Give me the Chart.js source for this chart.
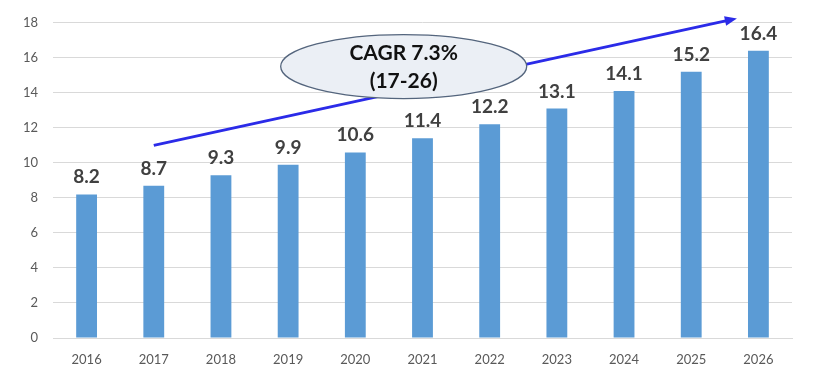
<!DOCTYPE html>
<html>
<head>
<meta charset="utf-8">
<script src="https://cdn.jsdelivr.net/npm/chart.js@4.4.1/dist/chart.umd.min.js"></script>
<style>
  html, body { margin: 0; padding: 0; background: #fff; }
  #wrap { width: 814px; height: 377px; }
</style>
</head>
<body>
<div id="wrap"><canvas id="chart" width="814" height="377"></canvas></div>
<script>
// values
const years = ["2016", "2017", "2018", "2019", "2020", "2021", "2022", "2023", "2024", "2025", "2026"]
const marketSize = [8.2, 8.7, 9.3, 9.9, 10.6, 11.4, 12.2, 13.1, 14.1, 15.2, 16.4]
const yMin = 0
const yMax = 18
const yStep = 2

// trend arrow and CAGR bubble, in data units (category index, value)
const arrowFrom = [1, 11.0]
const arrowTo = [9.68, 18.25]
const cagrCenter = [4.72, 15.5]
const cagrLines = ["CAGR 7.3%", "(17-26)"]

const tickColor = "#595959"
const barColor = "#5B9BD5"

const overlay = {
  id: "overlay",
  afterDatasetsDraw(chart) {
    const ctx = chart.ctx
    const x = chart.scales.x
    const y = chart.scales.y

    // value labels above the bars
    ctx.save()
    ctx.font = "bold 19px Lato, 'Liberation Sans', sans-serif"
    ctx.fillStyle = "#404040"
    ctx.textAlign = "center"
    ctx.textBaseline = "alphabetic"
    chart.getDatasetMeta(0).data.forEach((bar, i) => {
      ctx.fillText(marketSize[i].toFixed(1), bar.x, bar.y - 11)
    })
    ctx.restore()

    // arrow
    const x1 = x.getPixelForValue(arrowFrom[0])
    const y1 = y.getPixelForValue(arrowFrom[1])
    const x2 = x.getPixelForValue(arrowTo[0])
    const y2 = y.getPixelForValue(arrowTo[1])
    const ang = Math.atan2(y2 - y1, x2 - x1)
    const head = 13
    ctx.save()
    ctx.strokeStyle = "#2B2BE8"
    ctx.fillStyle = "#2B2BE8"
    ctx.lineWidth = 3
    ctx.beginPath()
    ctx.moveTo(x1, y1)
    ctx.lineTo(x2 - Math.cos(ang) * head * 0.8, y2 - Math.sin(ang) * head * 0.8)
    ctx.stroke()
    ctx.beginPath()
    ctx.moveTo(x2, y2)
    ctx.lineTo(x2 - head * Math.cos(ang - 0.38), y2 - head * Math.sin(ang - 0.38))
    ctx.lineTo(x2 - head * Math.cos(ang + 0.38), y2 - head * Math.sin(ang + 0.38))
    ctx.closePath()
    ctx.fill()
    ctx.restore()

    // CAGR bubble
    const cx = x.getPixelForValue(cagrCenter[0])
    const cy = y.getPixelForValue(cagrCenter[1])
    ctx.save()
    ctx.beginPath()
    ctx.ellipse(cx, cy, 123, 32, 0, 0, Math.PI * 2)
    ctx.fillStyle = "#EBEFF5"
    ctx.fill()
    ctx.lineWidth = 1.3
    ctx.strokeStyle = "#54657D"
    ctx.stroke()
    ctx.font = "bold 21px Lato, 'Liberation Sans', sans-serif"
    ctx.fillStyle = "#111111"
    ctx.textAlign = "center"
    ctx.textBaseline = "middle"
    ctx.fillText(cagrLines[0], cx, cy - 13)
    ctx.fillText(cagrLines[1], cx, cy + 15)
    ctx.restore()
  },
}

new Chart(document.getElementById("chart"), {
  type: "bar",
  data: {
    labels: years,
    datasets: [
      {
        data: marketSize,
        backgroundColor: barColor,
        borderWidth: 0,
        categoryPercentage: 1,
        barPercentage: 0.31,
      },
    ],
  },
  options: {
    responsive: false,
    animation: false,
    layout: { padding: { top: 21, right: 22, left: 0, bottom: 0 } },
    plugins: {
      legend: { display: false },
      tooltip: { enabled: false },
    },
    scales: {
      x: {
        grid: { display: false, drawTicks: false },
        border: { display: true, color: "#D9D9D9" },
        ticks: {
          color: tickColor,
          padding: 14,
          font: { family: "Lato, 'Liberation Sans', sans-serif", size: 13 },
          maxRotation: 0,
        },
        afterFit(scale) {
          scale.height = 39
        },
      },
      y: {
        min: yMin,
        max: yMax,
        grid: { color: "#D9D9D9", drawTicks: false },
        border: { display: false },
        ticks: {
          stepSize: yStep,
          color: tickColor,
          padding: 15,
          font: { family: "Lato, 'Liberation Sans', sans-serif", size: 13 },
        },
        afterFit(scale) {
          scale.width = 53
        },
      },
    },
  },
  plugins: [overlay],
})
</script>
</body>
</html>
